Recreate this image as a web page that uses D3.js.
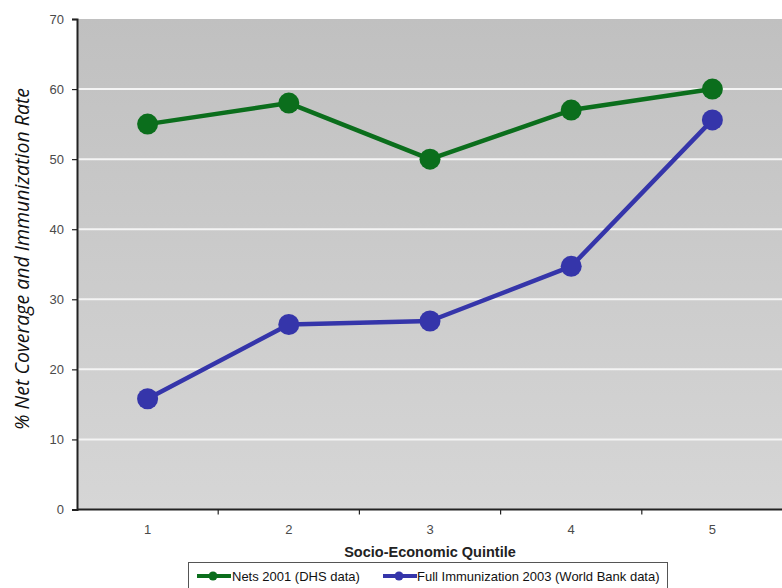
<!DOCTYPE html>
<html>
<head>
<meta charset="utf-8">
<script src="https://cdn.jsdelivr.net/npm/d3@7"></script>
<style>
  html, body { margin: 0; padding: 0; background: #fff; overflow: hidden; }
  svg { display: block; }
</style>
</head>
<body>
<svg id="chart" width="782" height="588"></svg>
<script>
// Socio-economic quintiles and the two coverage series
const quintiles = ["1", "2", "3", "4", "5"];
const netsValues = [55, 58, 50, 57, 60];
const immunizationValues = [15.8, 26.4, 26.9, 34.7, 55.6];
const yTicks = [0, 10, 20, 30, 40, 50, 60, 70];
const seriesNames = ["Nets 2001 (DHS data)", "Full Immunization 2003 (World Bank data)"];

const svg = d3.select("#chart");
const plot = { left: 77, right: 783, top: 19, bottom: 509.5 };
const sans = "Liberation Sans, Arial, sans-serif";

const x = d3.scaleBand().domain(quintiles).range([plot.left, plot.right]);
const y = d3.scaleLinear().domain([0, 70]).range([plot.bottom, plot.top]);

// Vertical grey gradient for the plot area
const defs = svg.append("defs");
const grad = defs.append("linearGradient")
  .attr("id", "bg").attr("x1", 0).attr("y1", 0).attr("x2", 0).attr("y2", 1);
grad.append("stop").attr("offset", "0%").attr("stop-color", "#c0c0c0");
grad.append("stop").attr("offset", "100%").attr("stop-color", "#d6d6d6");

svg.append("rect")
  .attr("x", plot.left).attr("y", plot.top)
  .attr("width", plot.right - plot.left).attr("height", plot.bottom - plot.top)
  .attr("fill", "url(#bg)");

// Horizontal gridlines
svg.append("g").selectAll("line")
  .data(yTicks.filter(d => d > 0 && d < 70))
  .join("line")
  .attr("x1", plot.left).attr("x2", plot.right)
  .attr("y1", d => y(d)).attr("y2", d => y(d))
  .attr("stroke", "#f4f4f4").attr("stroke-width", 2);

// Y axis
const yAxis = svg.append("g")
  .attr("transform", `translate(${plot.left},0)`)
  .call(d3.axisLeft(y).tickValues(yTicks).tickSize(5).tickPadding(8).tickFormat(d3.format("d")));
yAxis.select(".domain").attr("stroke", "#222").attr("stroke-width", 2);
yAxis.selectAll(".tick line").attr("stroke", "#222").attr("stroke-width", 1.2);
yAxis.selectAll("text")
  .attr("fill", "#4a4a4a").attr("font-family", sans).attr("font-size", 13);

// X axis: ticks sit on band boundaries, labels centred in each band
const xAxisG = svg.append("g").attr("transform", `translate(0,${plot.bottom})`);
xAxisG.append("line")
  .attr("x1", plot.left).attr("x2", plot.right)
  .attr("stroke", "#222").attr("stroke-width", 2);
xAxisG.selectAll(".xtick")
  .data(quintiles.slice(1))
  .join("line")
  .attr("class", "xtick")
  .attr("x1", d => x(d)).attr("x2", d => x(d))
  .attr("y1", 0).attr("y2", 5)
  .attr("stroke", "#222").attr("stroke-width", 1.2);
xAxisG.selectAll(".xlabel")
  .data(quintiles)
  .join("text")
  .attr("class", "xlabel")
  .attr("x", d => x(d) + x.bandwidth() / 2)
  .attr("y", 24)
  .attr("text-anchor", "middle")
  .attr("fill", "#4a4a4a")
  .attr("font-family", sans)
  .attr("font-size", 13)
  .text(d => d);

// Axis titles
svg.append("text")
  .attr("x", 430).attr("y", 557)
  .attr("text-anchor", "middle")
  .attr("font-family", sans)
  .attr("font-size", 14.5).attr("font-weight", "bold")
  .attr("fill", "#222")
  .text("Socio-Economic Quintile");

svg.append("text")
  .attr("transform", `translate(29,259) rotate(-90)`)
  .attr("text-anchor", "middle")
  .attr("font-family", "Open Sans, sans-serif")
  .attr("font-style", "italic")
  .attr("font-size", 19.5)
  .attr("fill", "#111")
  .text("% Net Coverage and Immunization Rate");

// Series
const cx = d => x(d) + x.bandwidth() / 2;
const series = [
  { name: seriesNames[0], values: netsValues, color: "#0b6e1c" },
  { name: seriesNames[1], values: immunizationValues, color: "#3535aa" }
];
const line = d3.line().x(d => cx(d.q)).y(d => y(d.v));

series.forEach(s => {
  const pts = quintiles.map((q, i) => ({ q, v: s.values[i] }));
  svg.append("path")
    .datum(pts)
    .attr("d", line)
    .attr("fill", "none")
    .attr("stroke", s.color)
    .attr("stroke-width", 4.5)
    .attr("stroke-linejoin", "round");
  svg.append("g").selectAll("circle")
    .data(pts)
    .join("circle")
    .attr("cx", d => cx(d.q))
    .attr("cy", d => y(d.v))
    .attr("r", 10.5)
    .attr("fill", s.color);
});

// Legend
const legend = svg.append("g");
legend.append("rect")
  .attr("x", 188.5).attr("y", 562.5).attr("width", 479).attr("height", 30)
  .attr("fill", "#fff").attr("stroke", "#555").attr("stroke-width", 1);

const legendItems = [
  { s: series[0], lx: 197, tx: 232 },
  { s: series[1], lx: 383, tx: 417 }
];
legendItems.forEach(it => {
  legend.append("line")
    .attr("x1", it.lx).attr("x2", it.lx + 34)
    .attr("y1", 576).attr("y2", 576)
    .attr("stroke", it.s.color).attr("stroke-width", 4);
  legend.append("circle")
    .attr("cx", it.lx + 16).attr("cy", 576).attr("r", 4.5)
    .attr("fill", it.s.color);
  legend.append("text")
    .attr("x", it.tx).attr("y", 580.5)
    .attr("font-family", sans)
    .attr("font-size", 13)
    .attr("fill", "#111")
    .text(it.s.name);
});
</script>
</body>
</html>
